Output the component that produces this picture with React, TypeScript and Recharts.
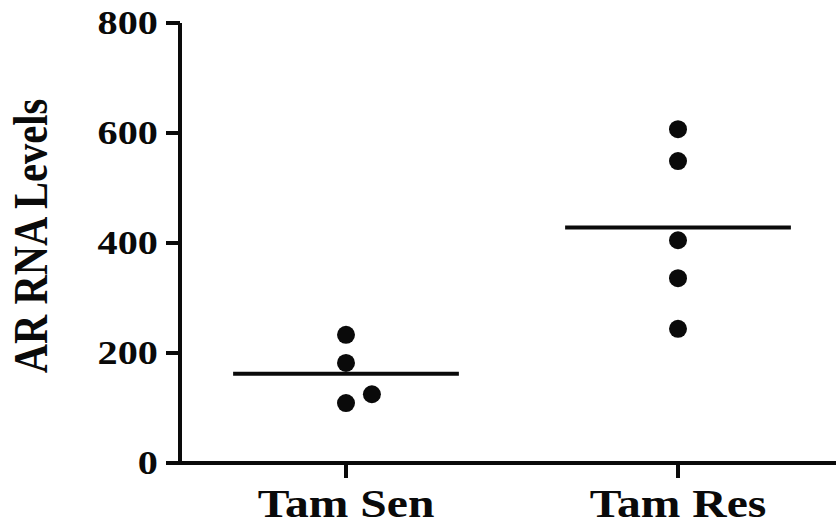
import { ScatterChart, Scatter, XAxis, YAxis, ReferenceLine, Label } from 'recharts'

const groups = ['Tam Sen', 'Tam Res']
const tamSen = [233, 182, 109, 125]
const tamSenJitter = [0, 0, 0, 0.078]
const tamRes = [607, 549, 405, 336, 244]
const tamResJitter = [0, 0, 0, 0, 0]
const yTicks = [0, 200, 400, 600, 800]

const FONT = '"Liberation Serif", "Times New Roman", serif'
const STRETCH = 1.22
const INK = '#0a0a0a'

const senPoints = tamSen.map((v, i) => ({ x: 1 + tamSenJitter[i], y: v }))
const resPoints = tamRes.map((v, i) => ({ x: 2 + tamResJitter[i], y: v }))

const mean = (vals: number[]) => vals.reduce((a, b) => a + b, 0) / vals.length
const HALF = 0.34

function Dot(props: any) {
  return <circle cx={props.cx} cy={props.cy} r={9} fill={INK} />
}

function YTick({ x, y, payload }: any) {
  return (
    <g transform={`translate(${x},${y}) scale(${STRETCH},1)`}>
      <text x={0} y={0} dy={11} textAnchor="end" fontFamily={FONT} fontWeight="bold" fontSize={33} fill={INK}>
        {payload.value}
      </text>
    </g>
  )
}

function XTick({ x, y, payload }: any) {
  return (
    <g transform={`translate(${x},${y}) scale(${STRETCH},1)`}>
      <text x={0} y={0} dy={39} textAnchor="middle" fontFamily={FONT} fontWeight="bold" fontSize={39} fill={INK}>
        {groups[payload.value - 1]}
      </text>
    </g>
  )
}

function YTitle({ viewBox }: any) {
  const cy = viewBox.y + viewBox.height / 2 - 7
  return (
    <g transform={`translate(${viewBox.x + 47},${cy}) scale(${STRETCH},1) rotate(-90)`}>
      <text x={0} y={0} textAnchor="middle" fontFamily={FONT} fontWeight="bold" fontSize={40.5} fill={INK}>
        AR RNA Levels
      </text>
    </g>
  )
}

export default function App() {
  const axisStroke = { stroke: INK, strokeWidth: 4 }
  return (
    <div style={{ position: 'fixed', top: 0, left: 0, width: 836, height: 532, overflow: 'hidden', background: '#fff' }}>
      <ScatterChart width={844} height={532} margin={{ top: 23, right: 0, bottom: 0, left: 0 }}>
        <XAxis
          type="number"
          dataKey="x"
          domain={[0.5, 2.5]}
          ticks={[1, 2]}
          height={69}
          axisLine={axisStroke}
          tickLine={axisStroke}
          tickSize={15}
          tickMargin={0}
          tick={<XTick />}
        />
        <YAxis
          type="number"
          dataKey="y"
          domain={[0, 800]}
          ticks={yTicks}
          width={180}
          axisLine={axisStroke}
          tickLine={axisStroke}
          tickSize={14}
          tickMargin={8}
          tick={<YTick />}
        >
          <Label content={<YTitle />} />
        </YAxis>
        <ReferenceLine
          segment={[
            { x: 1 - HALF, y: mean(tamSen) },
            { x: 1 + HALF, y: mean(tamSen) },
          ]}
          stroke={INK}
          strokeWidth={4}
        />
        <ReferenceLine
          segment={[
            { x: 2 - HALF, y: mean(tamRes) },
            { x: 2 + HALF, y: mean(tamRes) },
          ]}
          stroke={INK}
          strokeWidth={4}
        />
        <Scatter data={senPoints} shape={<Dot />} isAnimationActive={false} />
        <Scatter data={resPoints} shape={<Dot />} isAnimationActive={false} />
      </ScatterChart>
    </div>
  )
}
